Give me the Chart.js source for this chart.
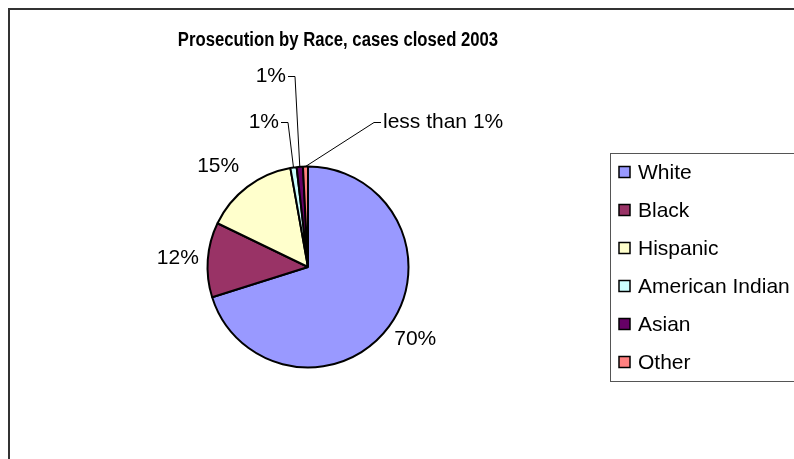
<!DOCTYPE html>
<html>
<head>
<meta charset="utf-8">
<script src="https://cdn.jsdelivr.net/npm/chart.js@4/dist/chart.umd.min.js"></script>
<style>
  html, body { margin: 0; padding: 0; background: #ffffff; }
  #wrap { width: 794px; height: 459px; position: relative; }
</style>
</head>
<body>
<div id="wrap"><canvas id="c" width="794" height="459"></canvas></div>
<script>
// Share of prosecutions by race, cases closed in 2003 (percent)
const categories = ['White', 'Black', 'Hispanic', 'American Indian', 'Asian', 'Other'];
const shares = [70, 12, 15, 1, 1, 0.8];
const sliceColors = ['#9999FF', '#993366', '#FFFFCC', '#CCFFFF', '#660066', '#FF8080'];
const chartTitle = 'Prosecution by Race, cases closed 2003';

const FONT = '"Liberation Sans", Arial, sans-serif';
const total = shares.reduce((a, b) => a + b, 0);

function labelText(v) {
  const pct = v / total * 100;
  return pct < 1 ? 'less than 1%' : Math.round(pct) + '%';
}

// Labels of the large slices sit just outside the rim along the slice's mid angle,
// with a small per-label nudge.
const rimNudge = {
  0: { dx: 2, dy: -5 },
  1: { dx: 0, dy: 1 },
  2: { dx: -11, dy: 3 }
};

// Thin slices get their labels pulled away from the pie with a leader line.
// Offsets are relative to the pie centre; 'side' tells which end of the text the leader attaches to.
const callouts = {
  3: { dx: -29, dy: -145, side: 'right' },
  4: { dx: -22, dy: -191, side: 'right' },
  5: { dx: 75, dy: -145, side: 'left' }
};

const decorations = {
  id: 'decorations',
  beforeDraw(chart) {
    const ctx = chart.ctx;
    ctx.save();
    ctx.fillStyle = '#ffffff';
    ctx.fillRect(0, 0, chart.width, chart.height);
    // outer frame (runs off the right and bottom edges)
    ctx.strokeStyle = '#333333';
    ctx.lineWidth = 2;
    ctx.strokeRect(9, 9, chart.width + 20, chart.height + 20);
    // title, set in a condensed bold face
    ctx.fillStyle = '#000000';
    ctx.font = 'bold 20px ' + FONT;
    ctx.textAlign = 'center';
    ctx.textBaseline = 'middle';
    ctx.translate(338, 40);
    ctx.scale(0.835, 1);
    ctx.fillText(chartTitle, 0, 0);
    ctx.restore();
  },
  afterDraw(chart) {
    const ctx = chart.ctx;
    const meta = chart.getDatasetMeta(0);
    ctx.save();
    ctx.font = '21px ' + FONT;
    ctx.fillStyle = '#000000';
    ctx.strokeStyle = '#000000';
    ctx.lineWidth = 1;
    meta.data.forEach((arc, i) => {
      const p = arc.getProps(['x', 'y', 'startAngle', 'endAngle', 'outerRadius'], true);
      const mid = (p.startAngle + p.endAngle) / 2;
      const cx = Math.cos(mid), cy = Math.sin(mid);
      const txt = labelText(shares[i]);
      const c = callouts[i];
      if (!c) {
        const n = rimNudge[i] || { dx: 0, dy: 0 };
        const r = p.outerRadius + 30;
        ctx.textAlign = 'center';
        ctx.textBaseline = 'middle';
        ctx.fillText(txt, p.x + cx * r + n.dx, p.y + cy * r + n.dy);
      } else {
        const tx = p.x + c.dx, ty = p.y + c.dy;
        const ex = p.x + cx * p.outerRadius, ey = p.y + cy * p.outerRadius;
        const dir = c.side === 'right' ? 1 : -1;
        ctx.textAlign = c.side === 'right' ? 'right' : 'left';
        ctx.textBaseline = 'middle';
        ctx.fillText(txt, tx, ty);
        ctx.beginPath();
        ctx.moveTo(tx + dir * 2, ty + 0.5);
        ctx.lineTo(tx + dir * 9, ty + 0.5);
        ctx.lineTo(ex, ey);
        ctx.stroke();
      }
    });
    // legend
    const lx = 610.5, ly = 153.5;
    ctx.strokeStyle = '#555555';
    ctx.lineWidth = 1;
    ctx.strokeRect(lx, ly, chart.width, 228);
    ctx.font = '21px ' + FONT;
    ctx.textAlign = 'left';
    ctx.textBaseline = 'middle';
    categories.forEach((name, i) => {
      const ry = 172 + i * 38;
      ctx.fillStyle = sliceColors[i];
      ctx.fillRect(619, ry - 5.5, 11, 11);
      ctx.strokeStyle = '#000000';
      ctx.lineWidth = 1.5;
      ctx.strokeRect(619, ry - 5.5, 11, 11);
      ctx.fillStyle = '#000000';
      ctx.fillText(name, 638, ry + 1);
    });
    ctx.restore();
  }
};

new Chart(document.getElementById('c'), {
  type: 'pie',
  data: {
    labels: categories,
    datasets: [{
      data: shares,
      backgroundColor: sliceColors,
      borderColor: '#000000',
      borderWidth: 2
    }]
  },
  options: {
    responsive: false,
    animation: false,
    layout: { padding: { left: 206.5, right: 384.5, top: 165.5, bottom: 90.5 } },
    plugins: {
      legend: { display: false },
      tooltip: { enabled: false },
      title: { display: false }
    }
  },
  plugins: [decorations]
});
</script>
</body>
</html>
